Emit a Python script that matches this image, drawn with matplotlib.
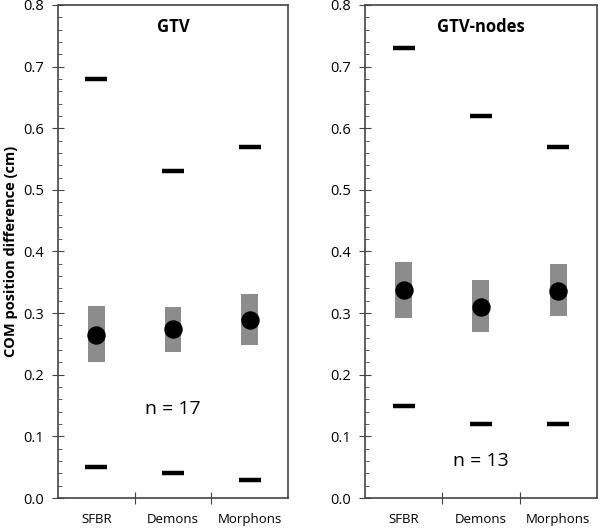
import matplotlib.pyplot as plt
from matplotlib.ticker import MultipleLocator
import numpy as np

plt.rcParams['font.family'] = ['Open Sans', 'DejaVu Sans']

methods = ['SFBR', 'Demons', 'Morphons']

# GTV
gtv_max = [0.68, 0.53, 0.57]
gtv_min = [0.05, 0.04, 0.03]
gtv_q1 = [0.221, 0.237, 0.248]
gtv_q3 = [0.312, 0.310, 0.331]
gtv_med = [0.265, 0.274, 0.289]

# GTV-nodes
nod_max = [0.73, 0.62, 0.57]
nod_min = [0.15, 0.12, 0.12]
nod_q1 = [0.292, 0.270, 0.295]
nod_q3 = [0.383, 0.353, 0.379]
nod_med = [0.337, 0.310, 0.336]

fig = plt.figure(figsize=(6, 5.29), dpi=100)
ax1 = fig.add_axes([0.0967, 0.0586, 0.3833, 0.932])
ax2 = fig.add_axes([0.608, 0.0586, 0.387, 0.932])

panels = [
    (ax1, 'GTV', gtv_max, gtv_min, gtv_q1, gtv_q3, gtv_med, 'n = 17', 0.145),
    (ax2, 'GTV-nodes', nod_max, nod_min, nod_q1, nod_q3, nod_med, 'n = 13', 0.06),
]

x = np.arange(len(methods)) + 0.5
for ax, title, mx, mn, q1, q3, med, ntxt, ny in panels:
    q1 = np.array(q1)
    q3 = np.array(q3)
    ax.bar(x, q3 - q1, bottom=q1, width=0.22, color='#8c8c8c', zorder=2)
    ax.scatter(x, med, s=150, color='black', zorder=3)
    ax.scatter(x, mx, marker='_', s=240, linewidths=3.2, color='black', zorder=3)
    ax.scatter(x, mn, marker='_', s=240, linewidths=3.2, color='black', zorder=3)

    ax.set_xlim(0, 3)
    ax.set_ylim(0, 0.8)
    ax.set_xticks([1, 2])
    ax.set_xticklabels([])
    ax.set_xticks(x, minor=True)
    ax.set_xticklabels(methods, minor=True, fontsize=9.5)
    ax.tick_params(axis='x', which='minor', length=0, pad=11)
    ax.tick_params(axis='x', which='major', direction='inout', length=8, color='#444444')
    ax.yaxis.set_major_locator(MultipleLocator(0.1))
    ax.yaxis.set_minor_locator(MultipleLocator(0.02))
    ax.yaxis.set_major_formatter(plt.FormatStrFormatter('%.1f'))
    ax.tick_params(axis='y', which='major', direction='inout', length=8, labelsize=10.5,
                   color='#444444', pad=6)
    ax.tick_params(axis='y', which='minor', direction='in', length=3, color='#444444')
    for s in ax.spines.values():
        s.set_color('#444444')
        s.set_linewidth(1.2)

    ax.text(1.5, 0.765, title, ha='center', va='center', fontsize=12, fontweight='bold')
    ax.text(1.5, ny, ntxt, ha='center', va='center', fontsize=14)

ax1.set_ylabel('COM position difference (cm)', fontsize=10.5, fontweight='bold', labelpad=4)

fig.savefig('out.png', dpi=100)
